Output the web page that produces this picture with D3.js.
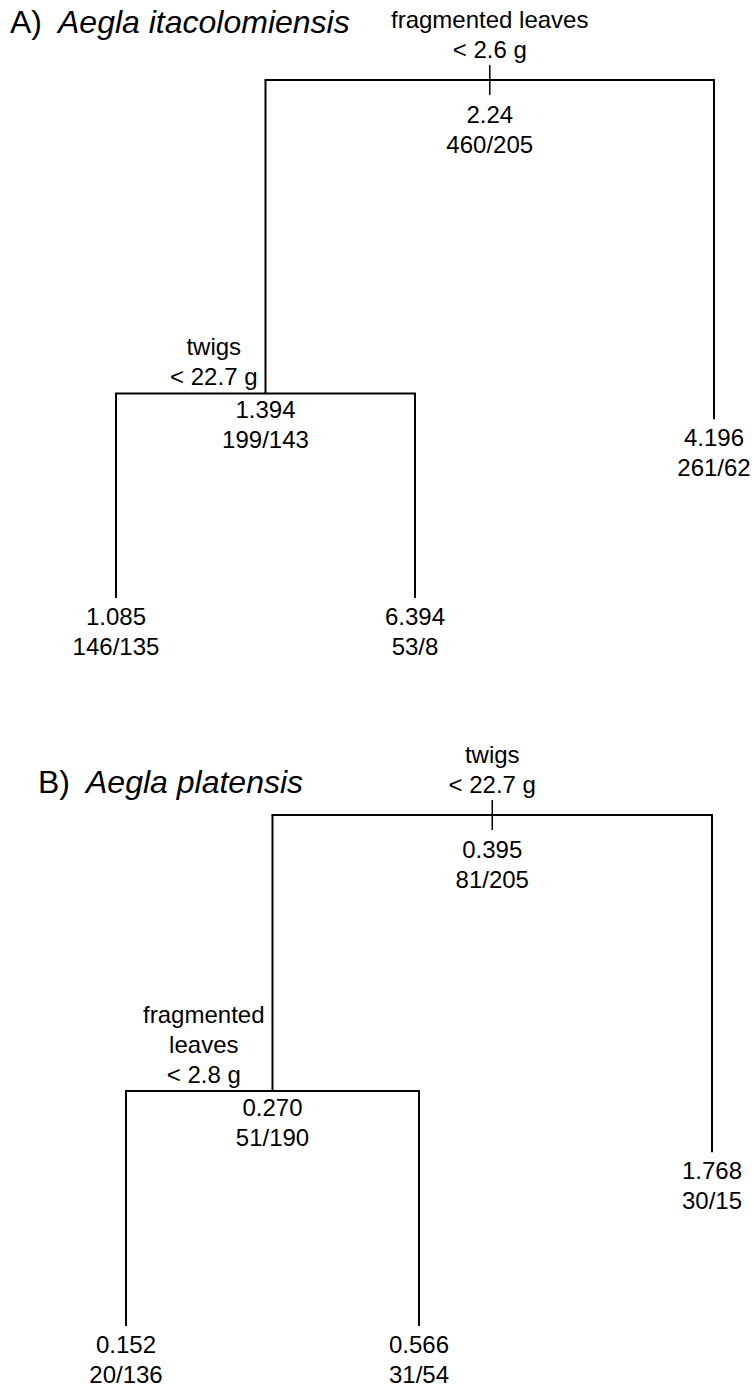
<!DOCTYPE html>
<html>
<head>
<meta charset="utf-8">
<script src="https://cdn.jsdelivr.net/npm/d3@7/dist/d3.min.js"></script>
<style>
  html, body { margin: 0; padding: 0; background: #fff; }
  text { font-family: "Liberation Sans", Arial, sans-serif; fill: #000; }
</style>
</head>
<body>
<svg id="chart" width="754" height="1393"></svg>
<script>
// ---------- data ----------
const panelLetters = ["A)", "B)"];
const panelSpecies = ["Aegla itacolomiensis", "Aegla platensis"];

// Tree A: Aegla itacolomiensis
const treeA_id     = ["root", "n2", "n3", "n4", "n5"];
const treeA_parent = [null, "root", "root", "n2", "n2"];
const treeA_split  = [["fragmented leaves", "< 2.6 g"], ["twigs", "< 22.7 g"], null, null, null];
const treeA_mean   = ["2.24", "1.394", "4.196", "1.085", "6.394"];
const treeA_n      = ["460/205", "199/143", "261/62", "146/135", "53/8"];
// relative node height (deviance-based branch height, 1 = root, 0 = bottom)
const treeA_height = [1, 0.395, 0.345, 0, 0];

// Tree B: Aegla platensis
const treeB_id     = ["root", "n2", "n3", "n4", "n5"];
const treeB_parent = [null, "root", "root", "n2", "n2"];
const treeB_split  = [["twigs", "< 22.7 g"], ["fragmented", "leaves", "< 2.8 g"], null, null, null];
const treeB_mean   = ["0.395", "0.270", "1.768", "0.152", "0.566"];
const treeB_n      = ["81/205", "51/190", "30/15", "20/136", "31/54"];
const treeB_height = [1, 0.46, 0.34, 0, 0];

// ---------- drawing ----------
const svg = d3.select("#chart");
const FS = 24;      // label font size
const LH = 30;      // line height

function buildTree(ids, parents, splits, means, ns, heights) {
  const rows = ids.map((id, i) => ({
    id, parentId: parents[i], split: splits[i], mean: means[i], n: ns[i], h: heights[i]
  }));
  return d3.stratify().id(d => d.id).parentId(d => d.parentId)(rows);
}

function drawTree(root, cfg) {
  const g = svg.append("g");
  const leaves = root.leaves();
  let k = 0;
  root.eachAfter(node => { if (!node.children) node.xi = k++; });
  root.eachAfter(node => { if (node.children) node.xi = d3.mean(node.children, c => c.xi); });
  const x = d3.scaleLinear().domain([0, leaves.length - 1]).range(cfg.xRange);
  const y = d3.scaleLinear().domain([1, 0]).range(cfg.yRange);

  root.each(node => {
    node.px = x(node.xi);
    node.py = y(node.data.h);
  });

  // branches
  root.each(node => {
    if (!node.children) return;
    const xs = node.children.map(c => c.px);
    g.append("line")
      .attr("x1", d3.min(xs)).attr("x2", d3.max(xs))
      .attr("y1", node.py).attr("y2", node.py)
      .attr("stroke", "#000").attr("stroke-width", 2).attr("stroke-linecap", "square");
    node.children.forEach(c => {
      g.append("line")
        .attr("x1", c.px).attr("x2", c.px)
        .attr("y1", node.py).attr("y2", c.py)
        .attr("stroke", "#000").attr("stroke-width", 2);
    });
  });

  // labels
  root.each(node => {
    const d = node.data;
    const isRoot = !node.parent;
    if (isRoot) {
      g.append("line")
        .attr("x1", node.px).attr("x2", node.px)
        .attr("y1", node.py - 15).attr("y2", node.py + 15)
        .attr("stroke", "#000").attr("stroke-width", 1.5);
      const t = g.append("text").attr("text-anchor", "middle").attr("font-size", FS);
      const nLines = d.split.length;
      d.split.forEach((s, i) => {
        t.append("tspan").attr("x", node.px)
          .attr("y", node.py - 22 - (nLines - 1 - i) * LH).text(s);
      });
      const t2 = g.append("text").attr("text-anchor", "middle").attr("font-size", FS);
      t2.append("tspan").attr("x", node.px).attr("y", node.py + 43).text(d.mean);
      t2.append("tspan").attr("x", node.px).attr("y", node.py + 43 + LH).text(d.n);
    } else if (node.children) {
      const t = g.append("text").attr("text-anchor", "middle").attr("font-size", FS);
      const nLines = d.split.length;
      const spans = d.split.map((s, i) => t.append("tspan").text(s)
        .attr("y", node.py - 8 - (nLines - 1 - i) * LH));
      const maxW = d3.max(spans, s => s.node().getComputedTextLength());
      const cx = node.px - 8 - maxW / 2;
      spans.forEach(s => s.attr("x", cx));
      const t2 = g.append("text").attr("text-anchor", "middle").attr("font-size", FS);
      t2.append("tspan").attr("x", node.px).attr("y", node.py + 25).text(d.mean);
      t2.append("tspan").attr("x", node.px).attr("y", node.py + 25 + LH).text(d.n);
    } else {
      const t2 = g.append("text").attr("text-anchor", "middle").attr("font-size", FS);
      t2.append("tspan").attr("x", node.px).attr("y", node.py + 27).text(d.mean);
      t2.append("tspan").attr("x", node.px).attr("y", node.py + 27 + LH).text(d.n);
    }
  });

  // title
  const tt = g.append("text").attr("x", cfg.titleX).attr("y", cfg.titleY).attr("font-size", 32);
  tt.append("tspan").text(cfg.letter);
  tt.append("tspan").attr("dx", 16).attr("font-style", "italic").text(cfg.species);
}

const treeA = buildTree(treeA_id, treeA_parent, treeA_split, treeA_mean, treeA_n, treeA_height);
const treeB = buildTree(treeB_id, treeB_parent, treeB_split, treeB_mean, treeB_n, treeB_height);

drawTree(treeA, { xRange: [116, 714], yRange: [80, 598], titleX: 10, titleY: 33,
  letter: panelLetters[0], species: panelSpecies[0] });
drawTree(treeB, { xRange: [126, 712], yRange: [815, 1326], titleX: 38, titleY: 793,
  letter: panelLetters[1], species: panelSpecies[1] });
</script>
</body>
</html>
